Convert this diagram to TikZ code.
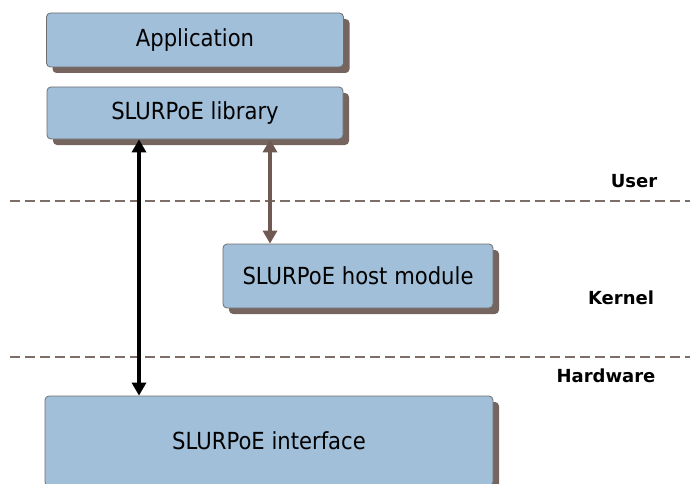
\documentclass[tikz,border=0pt]{standalone}
\usepackage{fontspec}
\newfontfamily\boxfont{DejaVu Sans}[FakeStretch=0.9]
\newfontfamily\layerfont{DejaVu Sans Bold}
\usetikzlibrary{arrows.meta,shadows}
\definecolor{boxfill}{HTML}{A1BFD9}
\definecolor{boxline}{HTML}{6E6E6E}
\definecolor{shadowc}{HTML}{76655E}
\definecolor{dashc}{HTML}{7E6E68}
\definecolor{brownarrow}{HTML}{6E5A52}
\tikzset{
  layerbox/.style={draw=boxline, line width=0.8pt, fill=boxfill, rounded corners=4pt,
    inner sep=0pt, font=\boxfont\fontsize{23.5}{28}\selectfont,
    drop shadow={shadow xshift=6pt, shadow yshift=-6pt, fill=shadowc, opacity=1}},
  layername/.style={font=\layerfont\fontsize{18}{22}\selectfont, anchor=center},
  boundary/.style={dashc, line width=2pt, dash pattern=on 10pt off 5pt},
  linkarrow/.style={line width=4pt, {Triangle[length=13pt,width=14pt]}-{Triangle[length=13pt,width=14pt]}}
}
\begin{document}
\begin{tikzpicture}[x=1pt,y=-1pt]
  \useasboundingbox (0,0) rectangle (690,484);
  \clip (0,0) rectangle (690,484);

  % protection boundaries
  \coordinate (bl) at (10,201);
  \coordinate (br) at (690,201);
  \coordinate (hl) at (10,357);
  \coordinate (hr) at (690,357);
  \draw[boundary] (bl) -- (br);
  \draw[boundary] (hl) -- (hr);

  % layer names
  \node[layername] (user) at (634,181) {User};
  \node[layername] (kernel) at (621,298) {Kernel};
  \node[layername] (hw) at (606,376) {Hardware};

  % software and hardware blocks
  \node[layerbox, minimum width=297pt, minimum height=54pt] (app) at (195,40) {Application};
  \node[layerbox, minimum width=296pt, minimum height=52pt] (lib) at (195,113) {SLURPoE library};
  \node[layerbox, minimum width=270pt, minimum height=64pt] (host) at (358,276) {SLURPoE host module};
  \node[layerbox, minimum width=448pt, minimum height=90pt] (iface) at (269,441) {SLURPoE interface};

  % communication paths
  \coordinate (ax) at (139,0);
  \coordinate (bx) at (270,0);
  \draw[linkarrow, black] (lib.south -| ax) -- (iface.north -| ax);
  \draw[linkarrow, brownarrow] (lib.south -| bx) -- (host.north -| bx);
\end{tikzpicture}
\end{document}
